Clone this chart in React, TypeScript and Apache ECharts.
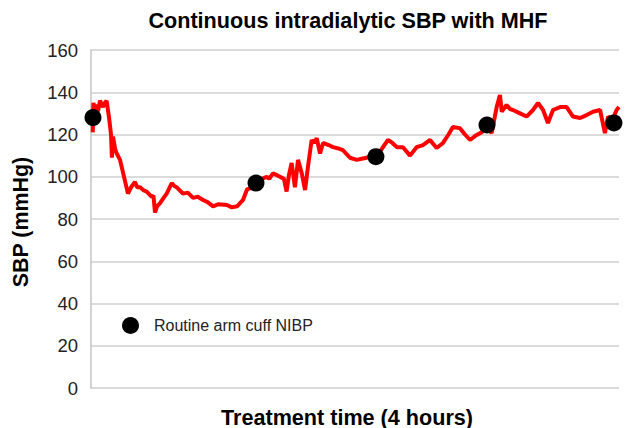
import React, { useEffect, useRef } from "react";
import * as echarts from "echarts";

// Continuous SBP trace: [time in minutes, SBP mmHg]
const sbpTime: number[] = [
  0.8, 1.1, 1.7, 2.3, 3.2, 4.1, 5.5, 6.3, 7.1, 8.2, 9.1, 9.5, 10, 11, 11.7, 13.2, 15, 16.8, 18.2, 20, 21, 22.3, 24, 25.3,
  27.6, 28.4, 29.1, 30, 31.4, 33, 34.4, 36.7, 38, 39, 41.8, 44, 46.4, 48.5, 50.9, 53, 55.5, 58, 61.8, 64, 66.4,
  69.1, 70.9, 73.6, 75, 77.7, 79.9, 81, 82.7, 84, 85.9, 87.7, 88.9, 90, 91.2, 92.7, 94.1, 95.8, 97.3, 98.6,
  100.3, 101.5, 102.6, 104.1, 105.5, 108, 110, 112, 114.5, 117.7, 120.8, 123, 125.3, 127.5, 129.9, 132.7,
  135, 137, 139, 141.8, 145, 148, 150.9, 154.1, 157.1, 160, 162.5, 164.5, 167.7, 170, 172.3, 175.3, 177.5,
  180, 182.1, 184.4, 185.9, 186.7, 188.9, 190.5, 191.8, 195, 198, 200.9, 203.2, 205.5, 207.7, 210, 213.2,
  216.2, 219.1, 222.3, 225.3, 228.2, 231.4, 233.6, 235, 237, 238.9, 240,
];
const sbpValue: number[] = [
  121, 135, 132, 134, 131, 136, 133, 135, 136, 128, 120, 109, 119, 113, 111, 108, 100, 92, 95, 97.5, 95, 95, 93.5, 93,
  90.5, 91, 83, 86, 87.5, 90, 92, 97, 95.5, 95, 92, 92.5, 90, 90.5, 89, 88, 86, 87, 86.6, 85.5, 86,
  89, 94, 95, 97, 99, 100, 99, 101.6, 101, 100, 99, 93, 101, 106.5, 95, 108, 101.6, 93.7, 104.6,
  117.4, 116, 118.3, 111, 116, 115, 114, 113.5, 112.6, 109, 108, 108.5, 109, 110, 109.5, 114,
  117.4, 116, 114, 114, 110, 114, 115, 117.4, 113.6, 116, 120, 123.6, 123, 120, 117.4, 119.8, 121,
  124, 120.7, 133, 138.7, 130.8, 134, 132, 131.6, 130, 128.5, 131.6, 134.9, 131.6, 125.4, 131.6, 133,
  133, 128.5, 127.8, 129.2, 130.8, 131.6, 120.7, 128.5, 127, 131.6, 133,
];

// Routine arm cuff NIBP readings
const cuffTime: number[] = [0.9, 75, 129.5, 180, 237.7];
const cuffValue: number[] = [128, 97, 109.5, 124.5, 125.5];

const yTicks: number[] = [0, 20, 40, 60, 80, 100, 120, 140, 160];

const FONT = "Liberation Sans, Arial, sans-serif";

export default function App() {
  const ref = useRef<HTMLDivElement>(null);
  useEffect(() => {
    if (!ref.current) return;
    const chart = echarts.init(ref.current, undefined, { renderer: "svg" });
    chart.setOption({
      animation: false,
      backgroundColor: "#ffffff",
      textStyle: { fontFamily: FONT },
      grid: { left: 91, right: 6, top: 50, bottom: 40, containLabel: false },
      graphic: [
        {
          type: "text",
          x: 348,
          y: 20,
          style: {
            text: "Continuous intradialytic SBP with MHF",
            font: `bold 21.6px ${FONT}`,
            fill: "#000",
            align: "center",
            verticalAlign: "middle",
          },
        },
        {
          type: "text",
          x: 347,
          y: 417,
          style: {
            text: "Treatment time (4 hours)",
            font: `bold 21.6px ${FONT}`,
            fill: "#000",
            align: "center",
            verticalAlign: "middle",
          },
        },
        {
          type: "text",
          x: 21,
          y: 222,
          rotation: Math.PI / 2,
          style: {
            text: "SBP (mmHg)",
            font: `bold 21.4px ${FONT}`,
            fill: "#000",
            align: "center",
            verticalAlign: "middle",
          },
        },
      ],
      legend: {
        data: [{ name: "Routine arm cuff NIBP", icon: "circle" }],
        left: 117,
        top: 312,
        itemWidth: 17,
        itemHeight: 17,
        textStyle: { fontSize: 16, color: "#222", fontFamily: FONT, padding: [0, 0, 0, 10] },
      },
      xAxis: {
        type: "value",
        min: 0,
        max: 240,
        axisLabel: { show: false },
        axisTick: { show: false },
        axisLine: { show: false },
        splitLine: { show: false },
      },
      yAxis: {
        type: "value",
        min: 0,
        max: 160,
        interval: 20,
        axisLine: { show: true, lineStyle: { color: "#c4c4c4", width: 1.5 } },
        axisTick: { show: false },
        axisLabel: {
          margin: 13,
          fontSize: 18.5,
          color: "#222",
          fontFamily: FONT,
          formatter: (v: number) => (yTicks.includes(v) ? String(v) : ""),
        },
        splitLine: { show: true, lineStyle: { color: "#cfcfcf", width: 1.5 } },
      },
      series: [
        {
          name: "SBP",
          type: "line",
          data: sbpTime.map((t, i) => [t, sbpValue[i]]),
          symbol: "none",
          lineStyle: { color: "#ff0000", width: 4 },
          z: 2,
        },
        {
          name: "Routine arm cuff NIBP",
          type: "scatter",
          data: cuffTime.map((t, i) => [t, cuffValue[i]]),
          symbol: "circle",
          symbolSize: 17,
          itemStyle: { color: "#000", opacity: 1 },
          z: 3,
        },
      ],
    });
    return () => chart.dispose();
  }, []);
  return <div ref={ref} style={{ width: 625, height: 428, position: "absolute", left: 0, top: 0 }} />;
}
